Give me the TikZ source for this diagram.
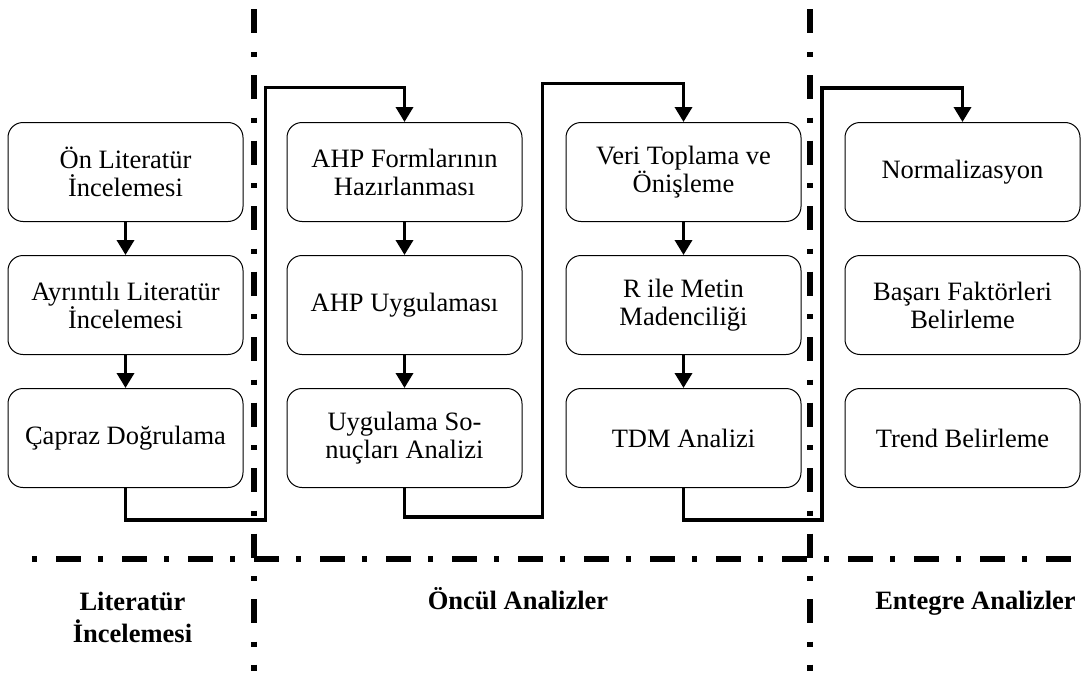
\documentclass[tikz,border=0pt]{standalone}
\usepackage{fontspec}
\setmainfont{Liberation Serif}
\usetikzlibrary{positioning, arrows.meta}
\tikzset{
  stepbox/.style = {shape=rectangle, rounded corners=15pt,
                    draw, line width=1pt, align=center,
                    minimum width=235pt, minimum height=99pt, inner sep=4pt,
                    font=\fontsize{26.5}{28}\selectfont},
  phase/.style   = {align=center, inner sep=0pt, anchor=base,
                    font=\fontsize{26.5}{32}\selectfont\bfseries},
  route/.style   = {draw, line width=3.5pt},
  flow/.style    = {route, -{Triangle[length=15pt, width=17pt]}},
  lane/.style    = {line width=6pt, dash pattern=on 24pt off 18.5pt on 5pt off 18pt},
  lanebase/.style = {line width=6pt, dash pattern=on 5pt off 19pt on 25pt off 17pt}
}
\begin{document}
\begin{tikzpicture}
  [
  x = 1pt, y = -1pt,
  node distance = 33pt and 43pt
  ]
  \useasboundingbox (0,0) rectangle (1086,677);

  % lane borders
  \draw[lane] (253.5,9.5) -- (253.5,671);
  \draw[lane] (809.5,9.5) -- (809.5,671);
  \draw[lanebase] (32,558.5) -- (1086,558.5);

  % literature
  \node[stepbox] (lit1) at (125.5,172) {Ön Literatür\\İncelemesi};
  \node[stepbox, below=of lit1] (lit2) {Ayrıntılı Literatür\\İncelemesi};
  \node[stepbox, below=of lit2] (lit3) {Çapraz Doğrulama};
  % AHP
  \node[stepbox, right=of lit1] (ahp1) {AHP Formlarının\\Hazırlanması};
  \node[stepbox, below=of ahp1] (ahp2) {AHP Uygulaması};
  \node[stepbox, below=of ahp2] (ahp3) {Uygulama So-\\nuçları Analizi};
  % text mining
  \node[stepbox, right=of ahp1] (veri1) {Veri Toplama ve\\Önişleme};
  \node[stepbox, below=of veri1] (veri2) {R ile Metin\\Madenciliği};
  \node[stepbox, below=of veri2] (veri3) {TDM Analizi};
  % integrated
  \node[stepbox, right=of veri1] (ent1) {Normalizasyon};
  \node[stepbox, below=of ent1] (ent2) {Başarı Faktörleri\\Belirleme};
  \node[stepbox, below=of ent2] (ent3) {Trend Belirleme};

  \draw[flow] (lit1) -- (lit2);
  \draw[flow] (lit2) -- (lit3);
  \draw[flow] (ahp1) -- (ahp2);
  \draw[flow] (ahp2) -- (ahp3);
  \draw[flow] (veri1) -- (veri2);
  \draw[flow] (veri2) -- (veri3);

  % links between lanes
  \coordinate (lowA) at (265.5,520);
  \coordinate (topA) at (265.5,87.5);
  \coordinate (lowB) at (542.5,517);
  \coordinate (topB) at (542.5,83.5);
  \coordinate (lowC) at (822,520);
  \coordinate (topC) at (822,88);
  \draw[flow] (lit3.south) |- (lowA) -- (topA) -| (ahp1.north);
  \draw[flow] (ahp3.south) |- (lowB) -- (topB) -| (veri1.north);
  \draw[flow] (veri3.south) |- (lowC) -- (topC) -| (ent1.north);

  % phase names
  \node[phase] (litname) at (132.5,642) {Literatür\\İncelemesi};
  \node[phase] (oncname) at (518,609) {Öncül Analizler};
  \node[phase] (entname) at (975.5,609) {Entegre Analizler};
\end{tikzpicture}
\end{document}
